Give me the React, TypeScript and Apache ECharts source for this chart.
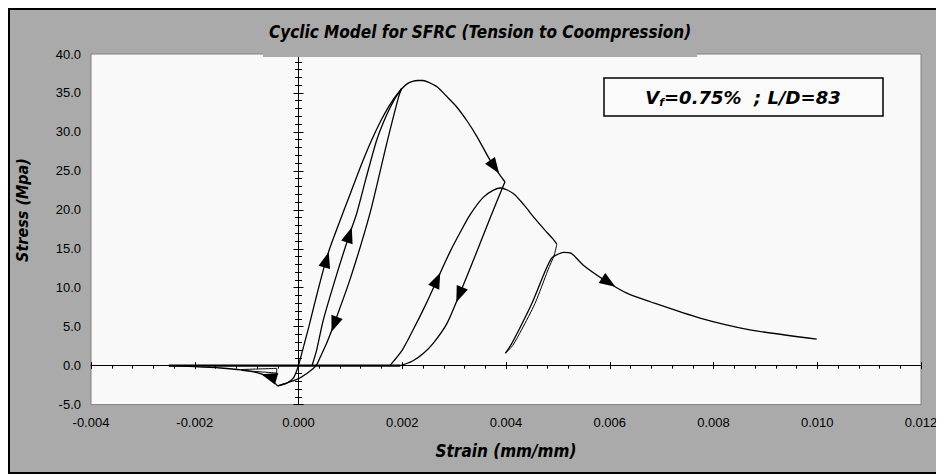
import React, { useEffect, useRef } from "react";
import * as echarts from "echarts";

// Axis ranges
const X_MIN = -0.004;
const X_MAX = 0.012;
const X_STEP = 0.002;
const Y_MIN = -5;
const Y_MAX = 40;
const Y_STEP = 5;

// Monotonic compression envelope
const envelopeStrain = [0, 0.0001, 0.0002, 0.0003, 0.0004, 0.0005, 0.0006, 0.0008, 0.001, 0.0012, 0.0014, 0.0016, 0.0018, 0.002, 0.0021, 0.0022, 0.0023, 0.0024, 0.0025, 0.00267, 0.00285, 0.00305, 0.00325, 0.00344, 0.00369, 0.00389, 0.00398];
const envelopeStress = [0, 2.5, 5.0, 7.7, 10.3, 12.8, 15.0, 18.6, 22.1, 25.6, 28.8, 31.6, 33.9, 35.6, 36.2, 36.5, 36.6, 36.6, 36.4, 35.8, 34.6, 33.2, 31.4, 29.4, 26.4, 24.4, 23.6];

// Tension branch
const tensionStrain = [0, -0.00005, -0.0001, -0.0002, -0.0003, -0.0004];
const tensionStress = [0, -0.9, -1.6, -2.15, -2.45, -2.6];
const softeningStrain = [-0.0004, -0.00045, -0.0005, -0.0006, -0.0008, -0.0011, -0.0015, -0.002, -0.0025];
const softeningStress = [-2.6, -2.3, -2.0, -1.4, -0.9, -0.55, -0.3, -0.12, 0];
const wedgeStrain = [-0.0011, -0.00042, -0.00042, -0.0011];
const wedgeStress = [-0.5, -0.35, -0.95, -0.62];
const zeroStrain = [-0.0025, 0.00196];
const zeroStress = [0, 0];

// Cycle 1
const unload1Strain = [0.00199, 0.00193, 0.0017, 0.00138, 0.001, 0.0007, 0.00055, 0.00042, 0.00034, 0.00016, -0.00004, -0.00029, -0.0004];
const unload1Stress = [35.6, 34.5, 28.5, 19.6, 11.2, 5.6, 3.0, 1.1, 0, -1.0, -1.8, -2.35, -2.6];
const reload1Strain = [0.00026, 0.00035, 0.00048, 0.00075, 0.00098, 0.00112, 0.0013, 0.00151, 0.0017, 0.00186, 0.00199];
const reload1Stress = [0, 2.0, 5.9, 12.0, 16.8, 19.5, 24.0, 29.0, 32.2, 34.3, 35.6];

// Cycle 2
const unload2Strain = [0.00398, 0.00369, 0.0034, 0.0031, 0.00286, 0.0026, 0.00241, 0.0022, 0.00196];
const unload2Stress = [23.6, 18.9, 14.0, 9.1, 5.4, 2.9, 1.6, 0.6, 0];
const reload2Strain = [0.00176, 0.002, 0.00221, 0.00245, 0.00267, 0.00292, 0.0031, 0.0033, 0.00356, 0.00375, 0.0039, 0.00414, 0.00435, 0.00453, 0.00475, 0.0049, 0.00498];
const reload2Stress = [0, 2.0, 4.6, 7.8, 11.0, 14.6, 16.9, 19.3, 21.6, 22.5, 22.8, 22.1, 20.6, 19.1, 17.4, 16.3, 15.6];

// Cycle 3
const unload3Strain = [0.00498, 0.00493, 0.00481, 0.00456, 0.0043, 0.00413, 0.00399];
const unload3Stress = [15.6, 14.2, 12.3, 8.0, 4.6, 2.6, 1.6];
const reload3Strain = [0.00399, 0.00409, 0.00425, 0.0045, 0.00476, 0.00488, 0.005, 0.00511, 0.00525, 0.00549, 0.00594, 0.00633, 0.00678, 0.00774, 0.0087, 0.00999];
const reload3Stress = [1.6, 2.6, 4.6, 8.0, 12.2, 13.8, 14.3, 14.55, 14.45, 12.9, 10.8, 9.3, 8.2, 6.1, 4.6, 3.4];

// Direction arrows on the curves
const arrowStrain = [0.00054, 0.00098, 0.00069, 0.00378, 0.00267, 0.0031, 0.00598, -0.00057];
const arrowStress = [13.6, 16.8, 5.3, 25.5, 11.0, 9.1, 10.7, -1.4];
const arrowAngle = [-16, -18, 160, 215, -24, 158, 237, 74];

const TITLE = "Cyclic Model for SFRC (Tension to Coompression)";
const X_NAME = "Strain (mm/mm)";
const Y_NAME = "Stress (Mpa)";

const pairs = (xs: number[], ys: number[]) => xs.map((x, i) => [x, ys[i]]);

const LABEL_FONT = "'Liberation Sans', Arial, sans-serif";
const NAME_FONT = "'DejaVu Sans Condensed', 'Liberation Sans Narrow', 'DejaVu Sans', sans-serif";

export default function App() {
  const ref = useRef<HTMLDivElement>(null);

  useEffect(() => {
    document.body.style.overflow = "hidden";
    const chart = echarts.init(ref.current!, null, { renderer: "svg" });

    const line = (name: string, xs: number[], ys: number[], width = 1.3) => ({
      type: "line",
      name,
      data: pairs(xs, ys),
      xAxisIndex: 0,
      yAxisIndex: 0,
      showSymbol: false,
      symbol: "none",
      smooth: 0.25,
      silent: true,
      z: 3,
      lineStyle: { color: "#000", width },
    });

    const xBase = { type: "value", min: X_MIN, max: X_MAX, interval: X_STEP, position: "bottom", splitLine: { show: false } };
    const yBase = { type: "value", min: Y_MIN, max: Y_MAX, interval: Y_STEP, position: "left", splitLine: { show: false } };
    const blk = { color: "#000", width: 1 };

    chart.setOption({
      animation: false,
      backgroundColor: "transparent",
      textStyle: { fontFamily: LABEL_FONT },
      title: {
        text: TITLE,
        left: 253,
        top: 8,
        backgroundColor: "#aaaaaa",
        padding: [4, 6, 15, 6],
        textStyle: {
          fontFamily: NAME_FONT,
          fontStyle: "italic",
          fontWeight: "bold",
          fontSize: 17,
          lineHeight: 20,
          color: "#000",
        },
      },
      grid: {
        left: 81,
        top: 44,
        width: 830,
        height: 350.6,
        show: true,
        backgroundColor: "#f9f9f9",
        borderColor: "#808080",
        borderWidth: 1,
        containLabel: false,
        outerBoundsMode: "none",
      },
      xAxis: [
        {
          ...xBase,
          axisLine: { show: false, onZero: false },
          axisTick: { show: false },
          minorTick: { show: false },
          axisLabel: {
            margin: 11,
            color: "#000",
            fontSize: 13,
            fontFamily: LABEL_FONT,
            formatter: (v: number) => v.toFixed(3),
          },
          name: X_NAME,
          nameLocation: "middle",
          nameGap: 38,
          nameTextStyle: { fontFamily: NAME_FONT, fontStyle: "italic", fontWeight: "bold", fontSize: 17, color: "#000" },
        },
        {
          ...xBase,
          axisLine: { show: true, onZero: true, onZeroAxisIndex: 1, lineStyle: blk },
          axisTick: { show: true, inside: false, length: 3.5, lineStyle: blk },
          minorTick: { show: true, splitNumber: 5, length: 3, lineStyle: blk },
          axisLabel: { show: false },
        },
        {
          ...xBase,
          axisLine: { show: false, onZero: true, onZeroAxisIndex: 2 },
          axisTick: { show: true, inside: true, length: 3.5, lineStyle: blk },
          minorTick: { show: false },
          axisLabel: { show: false },
        },
      ],
      yAxis: [
        {
          ...yBase,
          axisLine: { show: false, onZero: false },
          axisTick: { show: false },
          minorTick: { show: false },
          axisLabel: {
            margin: 10,
            color: "#000",
            fontSize: 13,
            fontFamily: LABEL_FONT,
            formatter: (v: number) => v.toFixed(1),
          },
        },
        {
          ...yBase,
          axisLine: { show: true, onZero: true, onZeroAxisIndex: 1, lineStyle: blk },
          axisTick: { show: true, inside: false, length: 5, lineStyle: blk },
          minorTick: { show: true, splitNumber: 5, length: 3.5, lineStyle: blk },
          axisLabel: { show: false },
        },
        {
          ...yBase,
          axisLine: { show: false, onZero: true, onZeroAxisIndex: 2 },
          axisTick: { show: true, inside: true, length: 5, lineStyle: blk },
          minorTick: { show: true, splitNumber: 5, length: 3.5, lineStyle: blk },
          axisLabel: { show: false },
        },
      ],
      graphic: [
        {
          type: "text",
          x: 12,
          y: 200,
          rotation: Math.PI / 2,
          style: {
            text: Y_NAME,
            fontFamily: NAME_FONT,
            fontStyle: "italic",
            fontWeight: "bold",
            fontSize: 16,
            fill: "#000",
            align: "center",
            verticalAlign: "middle",
          },
        },
        {
          type: "rect",
          shape: { x: 594, y: 68, width: 279, height: 38 },
          style: { fill: "#fafafa", stroke: "#000", lineWidth: 1.5 },
          z: 10,
        },
        {
          type: "text",
          x: 733,
          y: 87,
          z: 11,
          style: {
            text: "{v|V}{s|f}{v|=0.75%  ; L/D=83}",
            align: "center",
            verticalAlign: "middle",
            rich: {
              v: { fontFamily: "'DejaVu Sans', Verdana, sans-serif", fontStyle: "italic", fontWeight: "bold", fontSize: 18, lineHeight: 22, fill: "#000", color: "#000" },
              s: { fontFamily: "'DejaVu Sans', Verdana, sans-serif", fontStyle: "italic", fontWeight: "bold", fontSize: 11, lineHeight: 12, verticalAlign: "bottom", fill: "#000", color: "#000" },
            },
          },
        },
      ],
      series: [
        line("zero", zeroStrain, zeroStress, 2.2),
        line("envelope", envelopeStrain, envelopeStress),
        line("tension", tensionStrain, tensionStress),
        line("softening", softeningStrain, softeningStress),
        line("wedge", wedgeStrain, wedgeStress, 1),
        line("unload1", unload1Strain, unload1Stress),
        line("reload1", reload1Strain, reload1Stress),
        line("unload2", unload2Strain, unload2Stress),
        line("reload2", reload2Strain, reload2Stress),
        line("unload3", unload3Strain, unload3Stress, 1),
        line("reload3", reload3Strain, reload3Stress),
        {
          type: "scatter",
          name: "arrows",
          xAxisIndex: 0,
          yAxisIndex: 0,
          symbol: "triangle",
          symbolSize: [12, 16],
          silent: true,
          z: 5,
          itemStyle: { color: "#000", opacity: 1 },
          data: arrowStrain.map((x, i) => ({ value: [x, arrowStress[i]], symbolRotate: arrowAngle[i] })),
        },
      ],
    });

    return () => chart.dispose();
  }, []);

  return (
    <div
      style={{
        width: 936,
        height: 466,
        boxSizing: "border-box",
        borderTop: "2px solid #000",
        borderLeft: "2px solid #000",
        borderBottom: "2px solid #000",
        background: "#aaaaaa",
      }}
    >
      <div ref={ref} style={{ width: 934, height: 462 }} />
    </div>
  );
}
